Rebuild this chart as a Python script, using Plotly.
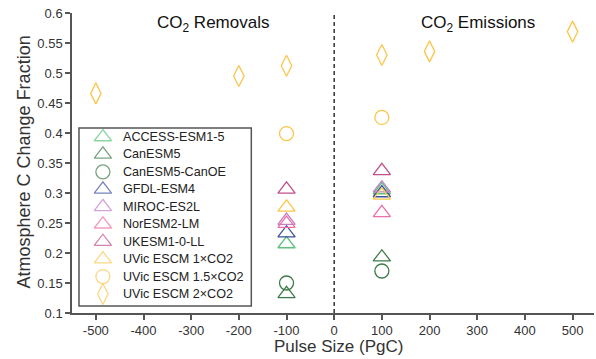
import plotly.graph_objects as go

# ── data ──────────────────────────────────────────────────────────────────────
models = [
    "ACCESS-ESM1-5", "CanESM5", "CanESM5-CanOE", "GFDL-ESM4", "MIROC-ES2L",
    "NorESM2-LM", "UKESM1-0-LL", "UVic ESCM 1×CO2", "UVic ESCM 1.5×CO2",
    "UVic ESCM 2×CO2",
]
pulses = [
    [-100, 100], [-100, 100], [-100, 100], [-100, 100], [-100, 100],
    [-100, 100], [-100, 100], [-100, 100], [-100, 100],
    [-500, -200, -100, 100, 200, 500],
]
fractions = [
    [0.215, 0.305], [0.132, 0.193], [0.150, 0.170], [0.233, 0.300],
    [0.254, 0.308], [0.249, 0.267], [0.306, 0.337], [0.276, 0.296],
    [0.399, 0.426], [0.466, 0.495, 0.512, 0.530, 0.536, 0.569],
]
colors = [
    "#5cc47e", "#3e7b4a", "#3e7b4a", "#3c509c", "#c27ec8",
    "#ee70a8", "#c1508b", "#fcc64c", "#fcc64c", "#fcc64c",
]
symbols = [
    "triangle-up-open", "triangle-up-open", "circle-open", "triangle-up-open",
    "triangle-up-open", "triangle-up-open", "triangle-up-open",
    "triangle-up-open", "circle-open", "diamond-tall-open",
]
sizes = [15, 15, 14, 15, 15, 15, 15, 15, 14, 15]
x_ticks = [-500, -400, -300, -200, -100, 0, 100, 200, 300, 400, 500]
x_ticklabels = ["-500", "-400", "-300", "-200", "-100", "0",
                "100", "200", "300", "400", "500"]

FONT = "Liberation Sans, Arial, sans-serif"
TXT = "#222222"

fig = go.Figure()

# zero line separating removals from emissions
fig.add_trace(go.Scatter(
    x=[0, 0], y=[0.1, 0.6], mode="lines", showlegend=False,
    line=dict(color="#333333", width=1.5, dash="4px,3px"), hoverinfo="skip",
))

for name, xs, ys, c, s, sz in zip(models, pulses, fractions, colors, symbols, sizes):
    fig.add_trace(go.Scatter(
        x=xs, y=ys, mode="markers", name=name, showlegend=False,
        marker=dict(symbol=s, color=c, size=sz, line=dict(width=1.3, color=c)),
    ))

# ── hand-built legend on an overlay axis (tighter row spacing than plotly's) ──
rows = list(range(len(models)))
fig.add_trace(go.Scatter(
    x=[0] * len(models), y=rows, mode="markers", showlegend=False,
    hoverinfo="skip", xaxis="x2", yaxis="y2",
    marker=dict(symbol=symbols, color=colors, size=sizes,
                line=dict(width=1.3, color=colors)),
))
for name, r in zip(models, rows):
    fig.add_annotation(x=18, y=r, xref="x2", yref="y2", text=name,
                       showarrow=False, xanchor="left", yanchor="middle",
                       font=dict(size=12.6, color=TXT, family=FONT))
fig.add_shape(type="rect", xref="paper", yref="paper",
              x0=0.0134, x1=0.3435, y0=0.023, y1=0.617,
              line=dict(color="#555555", width=1.5), fillcolor="rgba(0,0,0,0)")

# ── panel headings and axis titles ───────────────────────────────────────────
fig.add_annotation(x=-255, y=0.581, text="CO<sub>2</sub> Removals", showarrow=False,
                   font=dict(size=17, color="#111111"))
fig.add_annotation(x=301, y=0.581, text="CO<sub>2</sub> Emissions", showarrow=False,
                   font=dict(size=17, color="#111111"))
fig.add_annotation(x=0.51, y=-0.11, xref="paper", yref="paper",
                   xanchor="center", yanchor="middle",
                   text="Pulse Size (PgC)", showarrow=False,
                   font=dict(size=17, color="#333333"))
fig.add_annotation(x=-0.092, y=0.505, xref="paper", yref="paper", textangle=-90,
                   xanchor="center", yanchor="middle",
                   text="Atmosphere C Change Fraction", showarrow=False,
                   font=dict(size=18, color="#333333"))

axis_common = dict(
    showline=True, linecolor="#555555", linewidth=1.5, ticks="outside",
    ticklen=5, tickcolor="#555555", tickwidth=1.5, showgrid=False,
    zeroline=False, tickfont=dict(size=13, color="#333333"), automargin=False,
)
fig.update_layout(
    width=596, height=359,
    paper_bgcolor="white", plot_bgcolor="white",
    font=dict(family=FONT),
    showlegend=False,
    margin=dict(l=72, r=2, t=13, b=46),
    xaxis=dict(range=[-550, 545], tickvals=x_ticks, ticktext=x_ticklabels,
               **axis_common),
    yaxis=dict(range=[0.1, 0.6], dtick=0.05, tick0=0.1, **axis_common),
    xaxis2=dict(domain=[0.0134, 0.3435], range=[-24, 149], visible=False,
                anchor="y2", fixedrange=True),
    yaxis2=dict(domain=[0.023, 0.617], range=[9.69, -0.52], visible=False,
                anchor="x2", fixedrange=True),
)

# drop the browser's default body margin so the figure sits at the page corner
fig.write_html("out.html", config={"displayModeBar": False},
               post_script="document.body.style.margin='0px';")
